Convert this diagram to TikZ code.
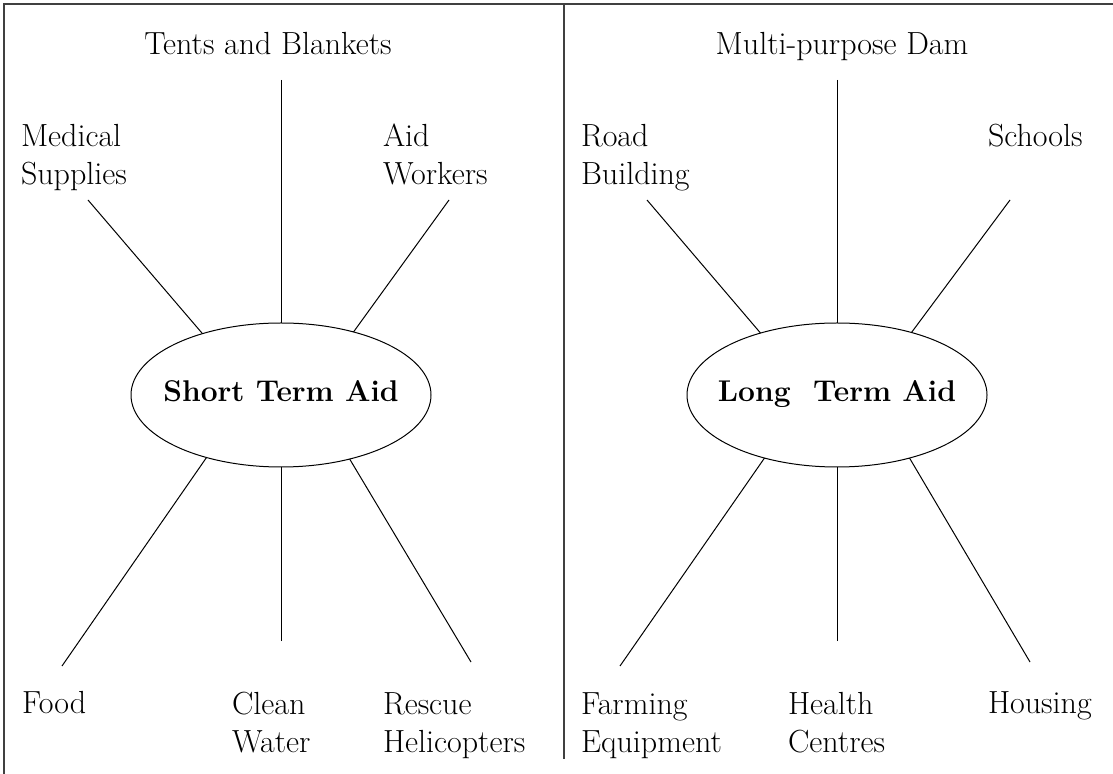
\documentclass[tikz,border=0pt]{standalone}
\usetikzlibrary{shapes.geometric}
\begin{document}
\begin{tikzpicture}[x=0.5pt,y=-0.5pt,every node/.style={inner sep=0pt,outer sep=0pt},
lbl/.style={align=left,anchor=base west,font=\fontsize{16}{19}\selectfont},
ttl/.style={anchor=base,font=\fontsize{16}{19}\selectfont},
aid/.style={draw,ellipse,line width=0.5pt,minimum width=150pt,minimum height=72pt},
aidtext/.style={font=\fontsize{15}{18}\selectfont\bfseries,text height=7pt,text depth=0pt},
spoke/.style={line width=0.5pt},
frame/.style={draw=black!75,line width=0.9pt}]
\useasboundingbox (0,0) rectangle (1113,774);
\draw[frame] (1113,4)--(4,4)--(4,774);
\draw[frame] (564,4)--(564,759);
% short term side (two-line labels sit on their last baseline)
\node[aid,label={[aidtext]center:Short Term Aid}] (short) at (281,395) {};
\node[ttl] (tents) at (268,55) {Tents and Blankets};
\node[lbl] (medical) at (21,185) {Medical\\Supplies};
\node[lbl] (workers) at (383,185) {Aid\\Workers};
\node[lbl] (food) at (22,713) {Food};
\node[lbl] (water) at (232,752) {Clean\\Water};
\node[lbl] (rescue) at (383,752) {Rescue\\Helicopters};
\coordinate (tb) at (281,80);
\coordinate (ms) at (88,200);
\coordinate (aw) at (449,200);
\coordinate (fd) at (62,666);
\coordinate (cw) at (281,641);
\coordinate (rh) at (471,662);
\draw[spoke] (tb)--(short.90);
\draw[spoke] (ms)--(short.142);
\draw[spoke] (aw)--(short.41);
\draw[spoke] (fd)--(short.220);
\draw[spoke] (cw)--(short.270);
\draw[spoke] (rh)--(short.317);
% long term side
\node[aid,label={[aidtext]center:Long~~Term Aid}] (long) at (837,395) {};
\node[ttl] (dam) at (842,55) {Multi-purpose Dam};
\node[lbl] (road) at (581,185) {Road\\Building};
\node[lbl] (schools) at (988,147) {Schools};
\node[lbl] (farming) at (581,752) {Farming\\Equipment};
\node[lbl] (health) at (788,752) {Health\\Centres};
\node[lbl] (housing) at (988,713) {Housing};
\coordinate (md) at (837,80);
\coordinate (rb) at (647,200);
\coordinate (sc) at (1010,200);
\coordinate (fe) at (620,666);
\coordinate (hc) at (837,641);
\coordinate (ho) at (1030,662);
\draw[spoke] (md)--(long.90);
\draw[spoke] (rb)--(long.141);
\draw[spoke] (sc)--(long.40);
\draw[spoke] (fe)--(long.221);
\draw[spoke] (hc)--(long.270);
\draw[spoke] (ho)--(long.319);
\end{tikzpicture}
\end{document}
